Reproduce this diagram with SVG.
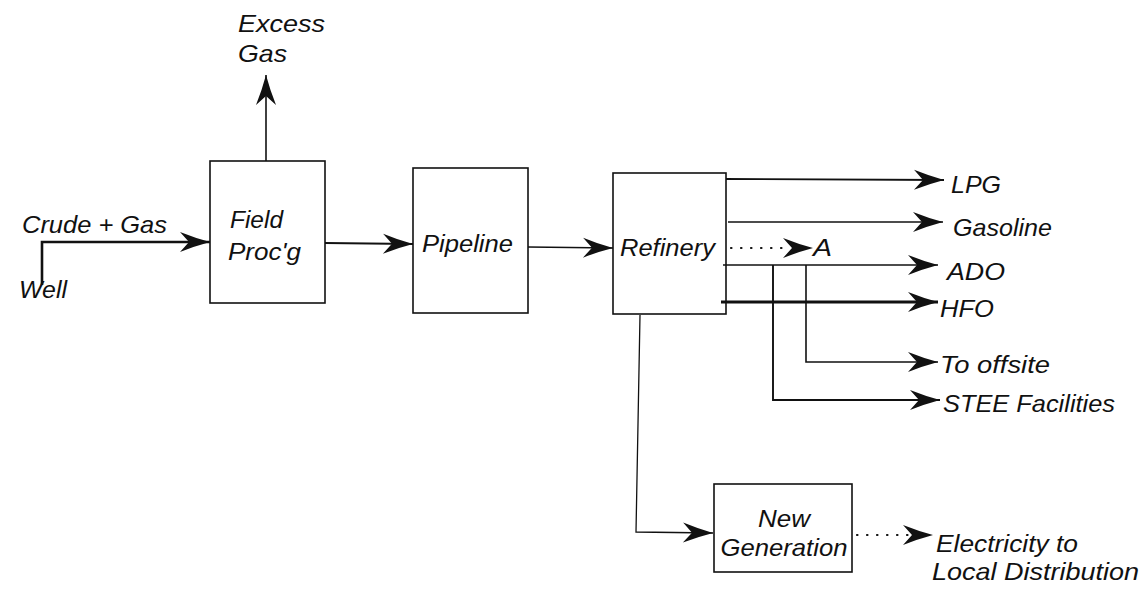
<svg xmlns="http://www.w3.org/2000/svg" width="1142" height="591" viewBox="0 0 1142 591">
<style>
  .bg{fill:#ffffff}
  .box{fill:none;stroke:#111;stroke-width:1.6}
  .ln{fill:none;stroke:#111;stroke-width:1.6}
  .thick{stroke-width:2.6}
  .heavy{stroke-width:3.2}
  .dot{fill:none;stroke:#111;stroke-width:2.2;stroke-dasharray:0.5 9.5;stroke-linecap:round}
  text{font-family:"Liberation Sans",Arial,sans-serif;font-style:italic;font-size:24px;fill:#111}
  .mid{text-anchor:middle}
</style>
<defs>
  <marker id="ah" viewBox="-31 -11 32 22" refX="0" refY="0" markerWidth="32" markerHeight="22" markerUnits="userSpaceOnUse" orient="auto">
    <path d="M0,0 Q-15,-4 -30,-10 L-21,0 L-30,10 Q-15,4 0,0 Z" fill="#111"/>
  </marker>
</defs>
<rect class="bg" x="0" y="0" width="1142" height="591"/>

<g id="connectors">
  <path class="ln thick" d="M42,285 L42,242 L210,242" marker-end="url(#ah)"/>
  <path class="ln" d="M266,161 L266,75" marker-end="url(#ah)"/>
  <path class="ln" style="stroke-width:2" d="M325,243 L413,244" marker-end="url(#ah)"/>
  <path class="ln" d="M528,247 L613,248" marker-end="url(#ah)"/>
  <path class="ln" style="stroke-width:1.9" d="M726,179 L944,180" marker-end="url(#ah)"/>
  <path class="ln" d="M728,222 L943,222" marker-end="url(#ah)"/>
  <path class="dot" d="M731,248 L788,248"/>
  <path class="ln" style="stroke-width:0" d="M790,248 L813,248" marker-end="url(#ah)"/>
  <path class="ln" d="M723,265 L938,265" marker-end="url(#ah)"/>
  <path class="ln heavy" d="M721,302 L938,302" marker-end="url(#ah)"/>
  <path class="ln" d="M806,265 L806,362 L938,362" marker-end="url(#ah)"/>
  <path class="ln" style="stroke-width:1.9" d="M773,265 L773,400 L940,400" marker-end="url(#ah)"/>
  <path class="ln" style="stroke-width:1.3" d="M640,315 L636,532 L713,533" marker-end="url(#ah)"/>
  <path class="dot" d="M857,535 L908,535"/>
  <path class="ln" style="stroke-width:0" d="M910,535 L933,535" marker-end="url(#ah)"/>
</g>

<g id="well">
  <text x="19" y="298" textLength="48" lengthAdjust="spacingAndGlyphs">Well</text>
</g>
<g id="crude-gas">
  <text x="22" y="233" textLength="145" lengthAdjust="spacingAndGlyphs">Crude + Gas</text>
</g>
<g id="excess-gas">
  <text x="238" y="32" textLength="87" lengthAdjust="spacingAndGlyphs">Excess</text>
  <text x="238" y="62" textLength="49" lengthAdjust="spacingAndGlyphs">Gas</text>
</g>
<g id="field-procg">
  <rect class="box" x="210" y="161" width="115" height="142"/>
  <text x="230" y="228" textLength="53" lengthAdjust="spacingAndGlyphs">Field</text>
  <text x="228" y="260" textLength="73" lengthAdjust="spacingAndGlyphs">Proc'g</text>
</g>
<g id="pipeline">
  <rect class="box" x="413" y="168" width="115" height="145"/>
  <text x="422" y="252" textLength="91" lengthAdjust="spacingAndGlyphs">Pipeline</text>
</g>
<g id="refinery">
  <rect class="box" x="613" y="173" width="113" height="141"/>
  <text x="620" y="256" textLength="95" lengthAdjust="spacingAndGlyphs">Refinery</text>
</g>
<g id="a">
  <text x="813" y="256" textLength="19" lengthAdjust="spacingAndGlyphs">A</text>
</g>
<g id="lpg">
  <text x="951" y="193" textLength="50" lengthAdjust="spacingAndGlyphs">LPG</text>
</g>
<g id="gasoline">
  <text x="953" y="236" textLength="99" lengthAdjust="spacingAndGlyphs">Gasoline</text>
</g>
<g id="ado">
  <text x="947" y="280" textLength="58" lengthAdjust="spacingAndGlyphs">ADO</text>
</g>
<g id="hfo">
  <text x="940" y="317" textLength="54" lengthAdjust="spacingAndGlyphs">HFO</text>
</g>
<g id="to-offsite">
  <text x="940" y="373" textLength="110" lengthAdjust="spacingAndGlyphs">To offsite</text>
</g>
<g id="stee">
  <text x="943" y="412" textLength="172" lengthAdjust="spacingAndGlyphs">STEE Facilities</text>
</g>
<g id="new-generation">
  <rect class="box" x="714" y="484" width="138" height="88"/>
  <text class="mid" x="784" y="527" textLength="52" lengthAdjust="spacingAndGlyphs">New</text>
  <text class="mid" x="784" y="556" textLength="127" lengthAdjust="spacingAndGlyphs">Generation</text>
</g>
<g id="electricity">
  <text x="936" y="552" textLength="142" lengthAdjust="spacingAndGlyphs">Electricity to</text>
  <text x="932" y="580" textLength="207" lengthAdjust="spacingAndGlyphs">Local Distribution</text>
</g>
</svg>
